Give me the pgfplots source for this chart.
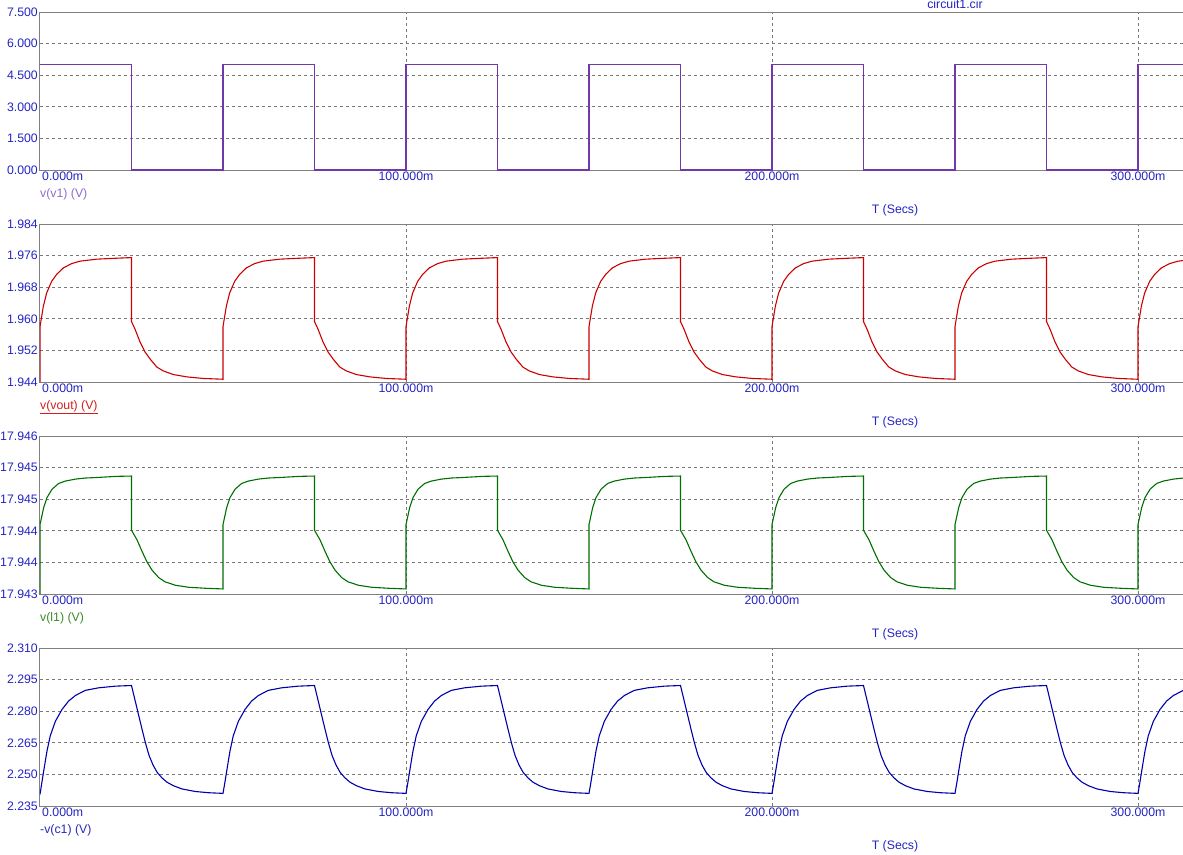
\documentclass[border=0pt]{standalone}
\usepackage{fontspec}
\setmainfont{Liberation Sans}
\usepackage{pgfplots}
\pgfplotsset{compat=1.18}

\definecolor{tickblue}{RGB}{36,36,196}
\definecolor{framegray}{RGB}{128,128,128}
\definecolor{gridgray}{RGB}{120,120,120}
\definecolor{tr1}{RGB}{112,56,168}
\definecolor{lb1}{RGB}{140,110,200}
\definecolor{tr2}{RGB}{204,0,0}
\definecolor{lb2}{RGB}{210,30,30}
\definecolor{tr3}{RGB}{0,110,0}
\definecolor{lb3}{RGB}{60,140,40}
\definecolor{tr4}{RGB}{0,0,170}
\definecolor{lb4}{RGB}{40,40,190}

\newcommand{\lbl}{\fontsize{12.3pt}{14pt}\selectfont}

\pgfplotsset{
  panel/.style={
    scale only axis, width=1171.2pt, height=158pt,
    xmin=0, xmax=320,
    xtick={100,200,300}, xticklabels={100.000m,200.000m,300.000m},
    extra x ticks={0}, extra x tick labels={0.000m},
    extra x tick style={grid=none, xticklabel style={anchor=north west}},
    grid=major,
    major grid style={draw=gridgray, line width=0.8pt, dash pattern=on 3pt off 3pt},
    axis line style={draw=framegray, line width=1pt},
    major tick length=0pt,
    tick label style={font=\lbl, text=tickblue},
    xticklabel style={anchor=north, inner sep=2pt},
    yticklabel style={anchor=east, inner sep=2pt},
  },
}

\begin{document}
\begin{tikzpicture}
\path[use as bounding box] (0,0) rectangle (1183pt,-854pt);

% ---- v(v1)
\begin{axis}[panel, at={(40pt,-170pt)}, anchor=south west,
  ymin=0, ymax=7.5, ytick={0,1.5,3,4.5,6,7.5},
  yticklabels={0.000,1.500,3.000,4.500,6.000,7.500}]
\addplot[tr1, line width=1.1pt] coordinates {
(0,5)(25,5)(25,0)(50,0)(50,5)(75,5)(75,0)(100,0)(100,5)(125,5)(125,0)(150,0)
(150,5)(175,5)(175,0)(200,0)(200,5)(225,5)(225,0)(250,0)(250,5)(275,5)(275,0)
(300,0)(300,5)(320,5)
};
\end{axis}

% ---- v(vout)
\begin{axis}[panel, at={(40pt,-382pt)}, anchor=south west,
  ymin=1.944, ymax=1.984, ytick={1.944,1.952,1.960,1.968,1.976,1.984},
  yticklabels={1.944,1.952,1.960,1.968,1.976,1.984}]
\addplot[tr2, line width=1.1pt] coordinates {
(0,1.944)(0,1.9580)(0.9,1.9631)(1.8,1.9665)(3.2,1.9695)(4.6,1.9713)(6.4,1.9729)(8.7,1.9740)(11,1.9746)(15.5,1.9751)(20,1.9753)(25,1.9755)(25,1.9593)(26,1.9573)(27.3,1.9542)(28.7,1.9516)(30.1,1.9498)(31.9,1.9478)(33.7,1.9468)(36.4,1.9459)(40.1,1.9453)(44.6,1.9449)(50,1.9447)
(50,1.9580)(50.9,1.9631)(51.8,1.9665)(53.2,1.9695)(54.6,1.9713)(56.4,1.9729)(58.7,1.9740)(61,1.9746)(65.5,1.9751)(70,1.9753)(75,1.9755)(75,1.9593)(76,1.9573)(77.3,1.9542)(78.7,1.9516)(80.1,1.9498)(81.9,1.9478)(83.7,1.9468)(86.4,1.9459)(90.1,1.9453)(94.6,1.9449)(100,1.9447)
(100,1.9580)(100.9,1.9631)(101.8,1.9665)(103.2,1.9695)(104.6,1.9713)(106.4,1.9729)(108.7,1.9740)(111,1.9746)(115.5,1.9751)(120,1.9753)(125,1.9755)(125,1.9593)(126,1.9573)(127.3,1.9542)(128.7,1.9516)(130.1,1.9498)(131.9,1.9478)(133.7,1.9468)(136.4,1.9459)(140.1,1.9453)(144.6,1.9449)(150,1.9447)
(150,1.9580)(150.9,1.9631)(151.8,1.9665)(153.2,1.9695)(154.6,1.9713)(156.4,1.9729)(158.7,1.9740)(161,1.9746)(165.5,1.9751)(170,1.9753)(175,1.9755)(175,1.9593)(176,1.9573)(177.3,1.9542)(178.7,1.9516)(180.1,1.9498)(181.9,1.9478)(183.7,1.9468)(186.4,1.9459)(190.1,1.9453)(194.6,1.9449)(200,1.9447)
(200,1.9580)(200.9,1.9631)(201.8,1.9665)(203.2,1.9695)(204.6,1.9713)(206.4,1.9729)(208.7,1.9740)(211,1.9746)(215.5,1.9751)(220,1.9753)(225,1.9755)(225,1.9593)(226,1.9573)(227.3,1.9542)(228.7,1.9516)(230.1,1.9498)(231.9,1.9478)(233.7,1.9468)(236.4,1.9459)(240.1,1.9453)(244.6,1.9449)(250,1.9447)
(250,1.9580)(250.9,1.9631)(251.8,1.9665)(253.2,1.9695)(254.6,1.9713)(256.4,1.9729)(258.7,1.9740)(261,1.9746)(265.5,1.9751)(270,1.9753)(275,1.9755)(275,1.9593)(276,1.9573)(277.3,1.9542)(278.7,1.9516)(280.1,1.9498)(281.9,1.9478)(283.7,1.9468)(286.4,1.9459)(290.1,1.9453)(294.6,1.9449)(300,1.9447)
(300,1.9580)(300.9,1.9631)(301.8,1.9665)(303.2,1.9695)(304.6,1.9713)(306.4,1.9729)(308.7,1.9740)(311,1.9746)(315.5,1.9751)(320,1.9753)
};
\end{axis}

% ---- v(l1): y in mV above 17.943 V (keeps pgfplots' float precision)
\begin{axis}[panel, at={(40pt,-594pt)}, anchor=south west,
  ymin=0, ymax=3, ytick={0,0.6,1.2,1.8,2.4,3},
  yticklabels={17.943,17.944,17.944,17.945,17.945,17.946}]
\addplot[tr3, line width=1.1pt] coordinates {
(0,0)(0,1.318)(1,1.638)(1.9,1.830)(3.3,1.990)(5.1,2.099)(6.9,2.144)(9.7,2.182)(12.4,2.202)(16,2.214)(21,2.234)(25,2.240)(25,1.210)(26.5,1.030)(27.9,0.806)(29.2,0.614)(30.6,0.454)(32.4,0.314)(34.2,0.230)(37,0.166)(40.6,0.128)(45.2,0.109)(50,0.096)
(50,1.318)(51,1.638)(51.9,1.830)(53.3,1.990)(55.1,2.099)(56.9,2.144)(59.7,2.182)(62.4,2.202)(66,2.214)(71,2.234)(75,2.240)(75,1.210)(76.5,1.030)(77.9,0.806)(79.2,0.614)(80.6,0.454)(82.4,0.314)(84.2,0.230)(87,0.166)(90.6,0.128)(95.2,0.109)(100,0.096)
(100,1.318)(101,1.638)(101.9,1.830)(103.3,1.990)(105.1,2.099)(106.9,2.144)(109.7,2.182)(112.4,2.202)(116,2.214)(121,2.234)(125,2.240)(125,1.210)(126.5,1.030)(127.9,0.806)(129.2,0.614)(130.6,0.454)(132.4,0.314)(134.2,0.230)(137,0.166)(140.6,0.128)(145.2,0.109)(150,0.096)
(150,1.318)(151,1.638)(151.9,1.830)(153.3,1.990)(155.1,2.099)(156.9,2.144)(159.7,2.182)(162.4,2.202)(166,2.214)(171,2.234)(175,2.240)(175,1.210)(176.5,1.030)(177.9,0.806)(179.2,0.614)(180.6,0.454)(182.4,0.314)(184.2,0.230)(187,0.166)(190.6,0.128)(195.2,0.109)(200,0.096)
(200,1.318)(201,1.638)(201.9,1.830)(203.3,1.990)(205.1,2.099)(206.9,2.144)(209.7,2.182)(212.4,2.202)(216,2.214)(221,2.234)(225,2.240)(225,1.210)(226.5,1.030)(227.9,0.806)(229.2,0.614)(230.6,0.454)(232.4,0.314)(234.2,0.230)(237,0.166)(240.6,0.128)(245.2,0.109)(250,0.096)
(250,1.318)(251,1.638)(251.9,1.830)(253.3,1.990)(255.1,2.099)(256.9,2.144)(259.7,2.182)(262.4,2.202)(266,2.214)(271,2.234)(275,2.240)(275,1.210)(276.5,1.030)(277.9,0.806)(279.2,0.614)(280.6,0.454)(282.4,0.314)(284.2,0.230)(287,0.166)(290.6,0.128)(295.2,0.109)(300,0.096)
(300,1.318)(301,1.638)(301.9,1.830)(303.3,1.990)(305.1,2.099)(306.9,2.144)(309.7,2.182)(312.4,2.202)(316,2.214)(320,2.230)
};
\end{axis}

% ---- -v(c1)
\begin{axis}[panel, at={(40pt,-806pt)}, anchor=south west,
  ymin=2.235, ymax=2.310, ytick={2.235,2.250,2.265,2.280,2.295,2.310},
  yticklabels={2.235,2.250,2.265,2.280,2.295,2.310}]
\addplot[tr4, line width=1.1pt] coordinates {
(0,2.2405)(0.5,2.2460)(1,2.2515)(1.9,2.2610)(2.8,2.2683)(4.2,2.2752)(6,2.2808)(7.8,2.2848)(9.7,2.2875)(12.4,2.2899)(16,2.2911)(20.6,2.2919)(25,2.2922)(25.9,2.2857)(26.8,2.2792)(27.8,2.2720)(28.8,2.2650)(29.8,2.2590)(30.9,2.2544)(32,2.2510)(33.3,2.2484)(34.7,2.2463)(36.5,2.2446)(38.8,2.2431)(42.4,2.2419)(46.1,2.2413)(50,2.2410)
(50.5,2.2460)(51,2.2515)(51.9,2.2610)(52.8,2.2683)(54.2,2.2752)(56,2.2808)(57.8,2.2848)(59.7,2.2875)(62.4,2.2899)(66,2.2911)(70.6,2.2919)(75,2.2922)(75.9,2.2857)(76.8,2.2792)(77.8,2.2720)(78.8,2.2650)(79.8,2.2590)(80.9,2.2544)(82,2.2510)(83.3,2.2484)(84.7,2.2463)(86.5,2.2446)(88.8,2.2431)(92.4,2.2419)(96.1,2.2413)(100,2.2410)
(100.5,2.2460)(101,2.2515)(101.9,2.2610)(102.8,2.2683)(104.2,2.2752)(106,2.2808)(107.8,2.2848)(109.7,2.2875)(112.4,2.2899)(116,2.2911)(120.6,2.2919)(125,2.2922)(125.9,2.2857)(126.8,2.2792)(127.8,2.2720)(128.8,2.2650)(129.8,2.2590)(130.9,2.2544)(132,2.2510)(133.3,2.2484)(134.7,2.2463)(136.5,2.2446)(138.8,2.2431)(142.4,2.2419)(146.1,2.2413)(150,2.2410)
(150.5,2.2460)(151,2.2515)(151.9,2.2610)(152.8,2.2683)(154.2,2.2752)(156,2.2808)(157.8,2.2848)(159.7,2.2875)(162.4,2.2899)(166,2.2911)(170.6,2.2919)(175,2.2922)(175.9,2.2857)(176.8,2.2792)(177.8,2.2720)(178.8,2.2650)(179.8,2.2590)(180.9,2.2544)(182,2.2510)(183.3,2.2484)(184.7,2.2463)(186.5,2.2446)(188.8,2.2431)(192.4,2.2419)(196.1,2.2413)(200,2.2410)
(200.5,2.2460)(201,2.2515)(201.9,2.2610)(202.8,2.2683)(204.2,2.2752)(206,2.2808)(207.8,2.2848)(209.7,2.2875)(212.4,2.2899)(216,2.2911)(220.6,2.2919)(225,2.2922)(225.9,2.2857)(226.8,2.2792)(227.8,2.2720)(228.8,2.2650)(229.8,2.2590)(230.9,2.2544)(232,2.2510)(233.3,2.2484)(234.7,2.2463)(236.5,2.2446)(238.8,2.2431)(242.4,2.2419)(246.1,2.2413)(250,2.2410)
(250.5,2.2460)(251,2.2515)(251.9,2.2610)(252.8,2.2683)(254.2,2.2752)(256,2.2808)(257.8,2.2848)(259.7,2.2875)(262.4,2.2899)(266,2.2911)(270.6,2.2919)(275,2.2922)(275.9,2.2857)(276.8,2.2792)(277.8,2.2720)(278.8,2.2650)(279.8,2.2590)(280.9,2.2544)(282,2.2510)(283.3,2.2484)(284.7,2.2463)(286.5,2.2446)(288.8,2.2431)(292.4,2.2419)(296.1,2.2413)(300,2.2410)
(300.5,2.2460)(301,2.2515)(301.9,2.2610)(302.8,2.2683)(304.2,2.2752)(306,2.2808)(307.8,2.2848)(309.7,2.2875)(312.4,2.2899)(316,2.2911)(320,2.2918)
};
\end{axis}

% ---- labels
\node[anchor=base, font=\lbl, text=tickblue] at (955pt,-8.5pt) {circuit1.cir};
\node[anchor=base west, inner sep=0pt, font=\lbl, text=lb1] at (40pt,-197pt) {v(v1) (V)};
\node[anchor=base, font=\lbl, text=tickblue] at (895pt,-213pt) {T (Secs)};
\node[anchor=base west, inner sep=0pt, font=\lbl, text=lb2] at (40pt,-409pt) {\underline{v(vout) (V)}};
\node[anchor=base, font=\lbl, text=tickblue] at (895pt,-425pt) {T (Secs)};
\node[anchor=base west, inner sep=0pt, font=\lbl, text=lb3] at (40pt,-621pt) {v(l1) (V)};
\node[anchor=base, font=\lbl, text=tickblue] at (895pt,-637pt) {T (Secs)};
\node[anchor=base west, inner sep=0pt, font=\lbl, text=lb4] at (40pt,-833pt) {-v(c1) (V)};
\node[anchor=base, font=\lbl, text=tickblue] at (895pt,-849pt) {T (Secs)};
\end{tikzpicture}
\end{document}
